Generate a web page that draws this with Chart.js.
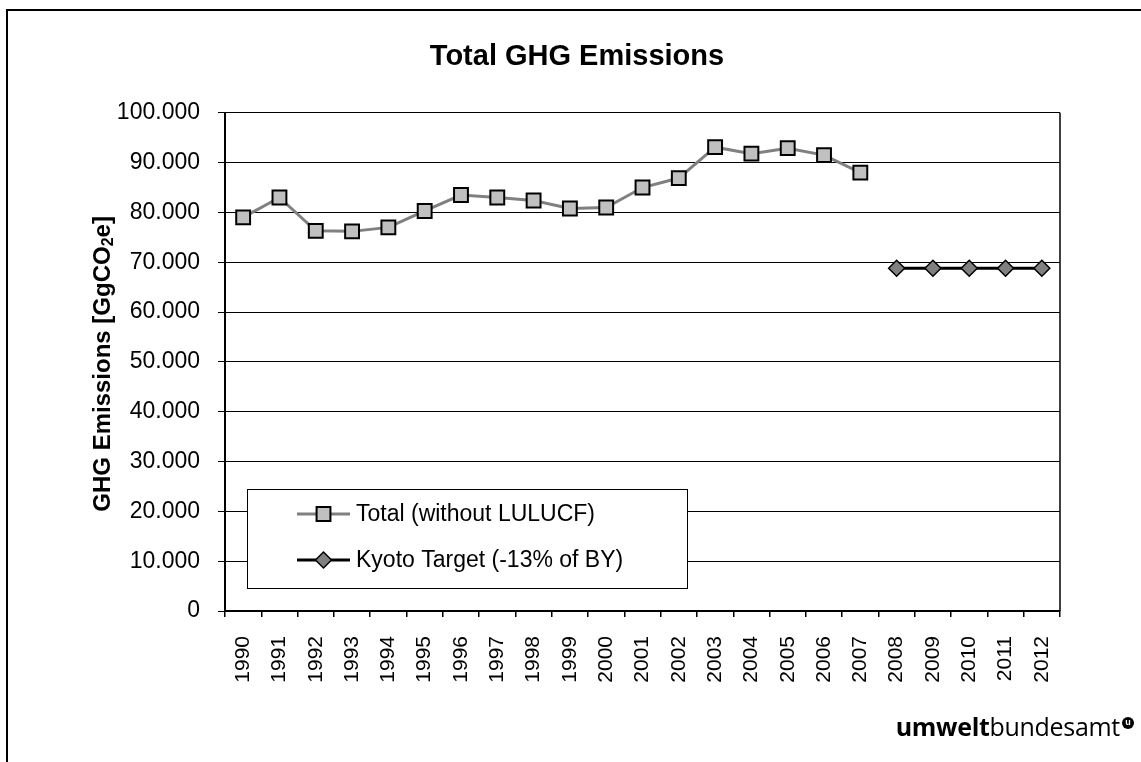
<!DOCTYPE html>
<html>
<head>
<meta charset="utf-8">
<script src="https://cdn.jsdelivr.net/npm/chart.js"></script>
<style>
  html, body { margin: 0; padding: 0; background: #fff; }
  #wrap { position: relative; width: 1141px; height: 762px; }
  #logo { position: absolute; right: 21px; top: 714px; font-family: "Open Sans", sans-serif; font-size: 25px; line-height: 25px; color: #000; white-space: nowrap; letter-spacing: -0.3px; }
  #logo b { font-weight: 700; }
  #mark { position: absolute; left: 1122px; top: 717px; width: 12px; height: 12px; border-radius: 50%; background: #000; color: #fff; font: bold 9px/11px Arial, sans-serif; text-align: center; }
</style>
</head>
<body>
<div id="wrap">
  <canvas id="chart" width="1141" height="762"></canvas>
  <div id="logo"><b>umwelt</b>bundesamt</div>
  <div id="mark">u</div>
</div>
<script>
const years = ['1990', '1991', '1992', '1993', '1994', '1995', '1996', '1997', '1998', '1999', '2000',
  '2001', '2002', '2003', '2004', '2005', '2006', '2007', '2008', '2009', '2010', '2011', '2012'];
const totalEmissions = [79000, 83000, 76300, 76200, 77000, 80300, 83500, 83000, 82400, 80800, 81000,
  85000, 86900, 93100, 91800, 92900, 91500, 88000, null, null, null, null, null];
const kyotoTarget = [null, null, null, null, null, null, null, null, null, null, null,
  null, null, null, null, null, null, null, 68800, 68800, 68800, 68800, 68800];
const seriesNames = ['Total (without LULUCF)', 'Kyoto Target (-13% of BY)'];
const yMin = 0, yMax = 100000, yStep = 10000;
const chartTitle = 'Total GHG Emissions';
const yTitleParts = ['GHG Emissions [GgCO', '2', 'e]'];

const FONT = "'Liberation Sans', Arial, sans-serif";

// thousands with a dot, like the original
function fmt(v) {
  return String(v).replace(/\B(?=(\d{3})+(?!\d))/g, '.');
}

const framePlugin = {
  id: 'frame',
  beforeDraw(chart) {
    const ctx = chart.ctx;
    ctx.save();
    ctx.fillStyle = '#fff';
    ctx.fillRect(0, 0, chart.width, chart.height);
    ctx.strokeStyle = '#000';
    ctx.lineWidth = 2;
    ctx.beginPath();
    ctx.moveTo(7, chart.height);
    ctx.lineTo(7, 10);
    ctx.lineTo(chart.width, 10);
    ctx.stroke();
    ctx.restore();
  },
  afterDraw(chart) {
    const a = chart.chartArea, ctx = chart.ctx;
    ctx.save();
    ctx.strokeStyle = '#000';
    ctx.lineWidth = 1.5;
    ctx.beginPath();
    ctx.moveTo(a.right, a.top);
    ctx.lineTo(a.right, a.bottom);
    ctx.stroke();
    ctx.restore();
  }
};

const yTitlePlugin = {
  id: 'yTitle',
  afterDraw(chart) {
    const ctx = chart.ctx;
    const mid = (chart.chartArea.top + chart.chartArea.bottom) / 2;
    ctx.save();
    ctx.translate(103, mid + 2);
    ctx.rotate(-Math.PI / 2);
    ctx.fillStyle = '#000';
    ctx.textBaseline = 'middle';
    ctx.textAlign = 'left';
    const big = 'bold 24px ' + FONT, small = 'bold 16px ' + FONT;
    ctx.font = big;
    const w1 = ctx.measureText(yTitleParts[0]).width;
    const w3 = ctx.measureText(yTitleParts[2]).width;
    ctx.font = small;
    const w2 = ctx.measureText(yTitleParts[1]).width;
    let x = -(w1 + w2 + w3) / 2;
    ctx.font = big;
    ctx.fillText(yTitleParts[0], x, 0);
    ctx.font = small;
    ctx.fillText(yTitleParts[1], x + w1, 6);
    ctx.font = big;
    ctx.fillText(yTitleParts[2], x + w1 + w2, 0);
    ctx.restore();
  }
};

function drawMarker(ctx, ds, x, y) {
  ctx.save();
  ctx.fillStyle = ds.pointBackgroundColor;
  ctx.strokeStyle = ds.pointBorderColor;
  ctx.lineWidth = ds.pointBorderWidth;
  ctx.beginPath();
  const r = ds.pointRadius;
  if (ds.pointStyle === 'rect') {
    const s = Math.SQRT1_2 * r;
    ctx.rect(x - s, y - s, 2 * s, 2 * s);
  } else {
    ctx.moveTo(x - r, y);
    ctx.lineTo(x, y - r);
    ctx.lineTo(x + r, y);
    ctx.lineTo(x, y + r);
    ctx.closePath();
  }
  ctx.fill();
  ctx.stroke();
  ctx.restore();
}

const legendPlugin = {
  id: 'boxLegend',
  afterDraw(chart) {
    const ctx = chart.ctx;
    const bx = 247, by = 489, bw = 440, bh = 99;
    ctx.save();
    ctx.fillStyle = '#fff';
    ctx.fillRect(bx, by, bw, bh);
    ctx.strokeStyle = '#000';
    ctx.lineWidth = 1;
    ctx.strokeRect(bx + 0.5, by + 0.5, bw, bh);
    const rows = [514, 560];
    chart.data.datasets.forEach((ds, i) => {
      const y = rows[i];
      ctx.strokeStyle = ds.borderColor;
      ctx.lineWidth = ds.borderWidth;
      ctx.beginPath();
      ctx.moveTo(297, y);
      ctx.lineTo(350, y);
      ctx.stroke();
      drawMarker(ctx, ds, 323.5, y);
      ctx.fillStyle = '#000';
      ctx.font = '23px ' + FONT;
      ctx.textBaseline = 'middle';
      ctx.textAlign = 'left';
      ctx.fillText(ds.label, 356, y + 1);
    });
    ctx.restore();
  }
};

const ctx = document.getElementById('chart').getContext('2d');
new Chart(ctx, {
  type: 'line',
  data: {
    labels: years,
    datasets: [{
      label: seriesNames[0],
      data: totalEmissions,
      borderColor: '#808080',
      borderWidth: 3,
      pointStyle: 'rect',
      pointRadius: 9.8,
      pointBackgroundColor: '#c0c0c0',
      pointBorderColor: '#000',
      pointBorderWidth: 2,
      tension: 0
    }, {
      label: seriesNames[1],
      data: kyotoTarget,
      borderColor: '#000',
      borderWidth: 3,
      pointStyle: 'rectRot',
      pointRadius: 8,
      pointBackgroundColor: '#808080',
      pointBorderColor: '#000',
      pointBorderWidth: 1.5,
      tension: 0
    }]
  },
  options: {
    responsive: false,
    animation: false,
    layout: { padding: { left: 94, right: 81, top: 0, bottom: 0 } },
    plugins: {
      legend: { display: false },
      tooltip: { enabled: false },
      title: {
        display: true,
        text: chartTitle,
        color: '#000',
        font: { family: FONT, size: 29, weight: 'bold', lineHeight: 1.2 },
        padding: { top: 40, bottom: 38 }
      }
    },
    scales: {
      x: {
        offset: true,
        grid: { offset: true, drawOnChartArea: false, color: '#000', tickLength: 6, lineWidth: 1.5 },
        border: { color: '#000', width: 2 },
        ticks: { color: '#000', font: { family: FONT, size: 21 }, minRotation: 90, maxRotation: 90, padding: 19, autoSkip: false },
        afterFit(s) { s.height = 151; s.paddingLeft = 0; s.paddingRight = 0; }
      },
      y: {
        min: yMin,
        max: yMax,
        grid: { color: '#000', lineWidth: 1, tickLength: 7 },
        border: { color: '#000', width: 2 },
        ticks: { stepSize: yStep, color: '#000', font: { family: FONT, size: 23 }, padding: 18, callback: v => fmt(v) },
        afterFit(s) { s.width = 131; s.paddingTop = 0; s.paddingBottom = 0; }
      }
    }
  },
  plugins: [framePlugin, yTitlePlugin, legendPlugin]
});
</script>
</body>
</html>
